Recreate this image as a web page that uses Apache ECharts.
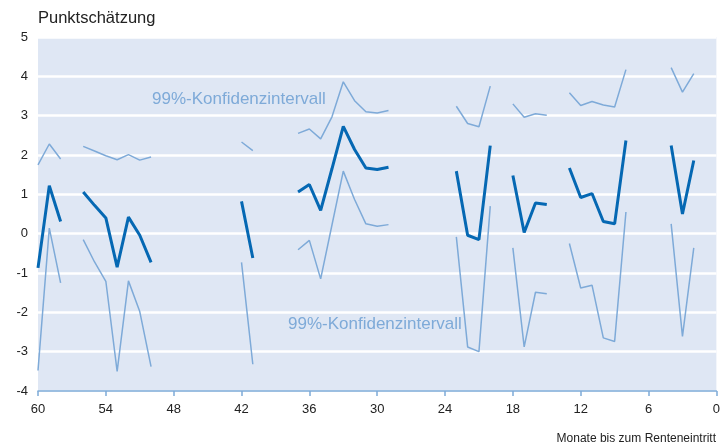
<!DOCTYPE html>
<html>
<head>
<meta charset="utf-8">
<script src="https://cdn.jsdelivr.net/npm/echarts@6/dist/echarts.min.js"></script>
<style>
  html, body { margin: 0; padding: 0; background: #fff; }
  #chart { width: 723px; height: 448px; }
</style>
</head>
<body>
<div id="chart"></div>
<script>
// Monate bis zum Renteneintritt (60 .. 2), null = keine Schätzung
const months = [60, 59, 58, 57, 56, 55, 54, 53, 52, 51, 50, 49, 48, 47, 46, 45, 44, 43, 42, 41,
                40, 39, 38, 37, 36, 35, 34, 33, 32, 31, 30, 29, 28, 27, 26, 25, 24, 23, 22, 21,
                20, 19, 18, 17, 16, 15, 14, 13, 12, 11, 10, 9, 8, 7, 6, 5, 4, 3, 2];

const pointEst = [-0.87, 1.22, 0.31, null, 1.06, 0.72, 0.40, -0.85, 0.42, -0.04, -0.73, null, null, null, null, null, null, null, 0.82, -0.62,
                  null, null, null, 1.06, 1.25, 0.59, 1.65, 2.73, 2.14, 1.67, 1.63, 1.69, null, null, null, null, null, 1.59, -0.04, -0.15,
                  2.24, null, 1.48, 0.03, 0.78, 0.74, null, 1.67, 0.92, 1.02, 0.31, 0.25, 2.37, null, null, null, 2.24, 0.50, 1.86];

const upperCI = [1.75, 2.28, 1.90, null, 2.22, 2.10, 1.98, 1.88, 2.01, 1.87, 1.95, null, null, null, null, null, null, null, 2.33, 2.11,
                 null, null, null, 2.55, 2.66, 2.41, 2.97, 3.86, 3.38, 3.10, 3.07, 3.13, null, null, null, null, null, 3.24, 2.80, 2.72,
                 3.75, null, 3.30, 2.96, 3.05, 3.01, null, 3.58, 3.26, 3.36, 3.27, 3.22, 4.17, null, null, null, 4.22, 3.60, 4.07];

const lowerCI = [-3.48, 0.14, -1.25, null, -0.15, -0.72, -1.21, -3.50, -1.20, -1.98, -3.38, null, null, null, null, null, null, null, -0.73, -3.32,
                 null, null, null, -0.41, -0.17, -1.15, 0.22, 1.59, 0.87, 0.25, 0.19, 0.23, null, null, null, null, null, -0.08, -2.88, -3.00,
                 0.70, null, -0.36, -2.88, -1.49, -1.53, null, -0.25, -1.38, -1.31, -2.65, -2.74, 0.55, null, null, null, 0.25, -2.61, -0.36];

const ciLabel = '99%-Konfidenzintervall';

const pairs = arr => months.map((m, i) => [m, arr[i] === null ? '-' : arr[i]]);

const font = 'Liberation Sans, Arial, sans-serif';
const ciColor = '#7eaad8';
const mainColor = '#0568b3';

const chart = echarts.init(document.getElementById('chart'));
chart.setOption({
    animation: false,
    grid: {
        left: 38, right: 6, top: 37, bottom: 57,
        show: true, backgroundColor: '#dfe7f4', borderWidth: 0
    },
    xAxis: {
        type: 'value', inverse: true, min: 0, max: 60, interval: 6,
        axisLine: { show: true, onZero: false, lineStyle: { color: '#7eaad8', width: 1.5 } },
        axisTick: { show: true, length: 5, lineStyle: { color: '#7eaad8', width: 1.5 } },
        axisLabel: { color: '#222', fontFamily: font, fontSize: 13, margin: 12 },
        splitLine: { show: false }
    },
    yAxis: {
        type: 'value', min: -4, max: 5, interval: 1,
        axisLine: { show: false }, axisTick: { show: false },
        axisLabel: { color: '#222', fontFamily: font, fontSize: 13, margin: 10 },
        splitLine: { lineStyle: { color: '#ffffff', width: 2.5 } }
    },
    series: [
        { type: 'line', data: pairs(upperCI), symbol: 'none', connectNulls: false,
          lineStyle: { color: ciColor, width: 1.5 } },
        { type: 'line', data: pairs(lowerCI), symbol: 'none', connectNulls: false,
          lineStyle: { color: ciColor, width: 1.5 } },
        { type: 'line', data: pairs(pointEst), symbol: 'none', connectNulls: false,
          lineStyle: { color: mainColor, width: 3 } }
    ],
    graphic: [
        { type: 'text', left: 38, top: 10,
          style: { text: 'Punktschätzung', fill: '#222', font: '16.5px ' + font } },
        { type: 'text', right: 7, top: 433,
          style: { text: 'Monate bis zum Renteneintritt', fill: '#222', font: '12px ' + font } },
        { type: 'text', left: 152, top: 91,
          style: { text: ciLabel, fill: ciColor, font: '17px ' + font } },
        { type: 'text', left: 288, top: 316,
          style: { text: ciLabel, fill: ciColor, font: '17px ' + font } }
    ]
});
</script>
</body>
</html>
